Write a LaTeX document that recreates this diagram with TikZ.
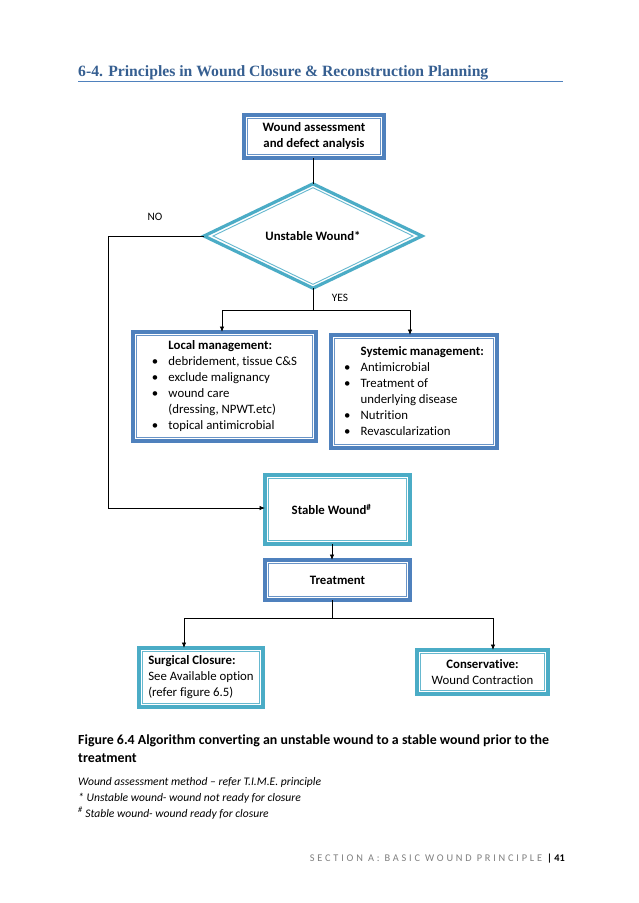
\documentclass[tikz,border=0pt]{standalone}
\usepackage{fontspec}
\setmainfont[Ligatures={NoCommon}]{Carlito}
\newfontfamily\titlefont{Liberation Serif}
\newfontfamily\spacedfont[LetterSpace=27,Ligatures={NoCommon}]{Carlito}
\usetikzlibrary{shapes.geometric,arrows.meta,calc}
\definecolor{bluec}{HTML}{4F81BD}
\definecolor{tealc}{HTML}{4BACC6}
\definecolor{titlec}{HTML}{365F91}
\definecolor{footc}{HTML}{7F7F7F}
\newcommand{\bul}{\makebox[16.5pt][l]{\textbullet}}
\newcommand{\ind}{\hspace*{16.5pt}}
\begin{document}
\begin{tikzpicture}[x=1pt,y=-1pt,
  boxfont/.style={font=\fontsize{12.8}{16}\selectfont},
  bbox/.style={draw=bluec, line width=3.2pt, fill=white, inner sep=0pt, outer sep=0pt, align=center, boxfont},
  tbox/.style={bbox, draw=tealc},
  conn/.style={line width=0.8pt, black},
  arr/.style={conn, -{Latex[length=5.5pt,width=4.5pt]}},
  lbl/.style={font=\fontsize{11.3}{13}\selectfont, inner sep=0pt}]
\fill[white] (0,0) rectangle (638,903);
\useasboundingbox (0,0) rectangle (638,903);

% title
\node[anchor=base west, inner sep=0pt, text=titlec, font=\titlefont\bfseries\fontsize{15.7}{18}\selectfont] (title) at (78,76) {6-4. Principles in Wound Closure \& Reconstruction Planning};
\draw[bluec, line width=1.8pt] (78,81.5) -- (563,81.5);

% nodes
\node[bbox, minimum width=140pt, minimum height=43pt] (assess) at (314,136.5) {\textbf{Wound assessment}\\\textbf{and defect analysis}};
\node[draw=tealc, line width=3.2pt, fill=white, shape=diamond, inner sep=0pt, outer sep=0pt, minimum width=218pt, minimum height=90pt, boxfont] (dia) at (313,236) {\textbf{Unstable Wound*}};
\node[bbox, minimum width=183pt, minimum height=109pt, align=left] (local) at (224.5,386.5)
  {\ind\textbf{Local management:}\\\bul debridement, tissue C\&S\hspace*{12pt}\\\bul exclude malignancy\\\bul wound care\\\ind(dressing, NPWT.etc)\\\bul topical antimicrobial};
\node[bbox, minimum width=166pt, minimum height=113pt, align=left] (sys) at (414,391.5)
  {\ind\textbf{Systemic management:}\\\bul Antimicrobial\\\bul Treatment of\\\ind underlying disease\\\bul Nutrition\\\bul Revascularization};
\node[tbox, minimum width=145pt, minimum height=69pt] (stable) at (337.5,509.5) {\textbf{Stable Wound\textsuperscript{\#}}\hspace*{12pt}};
\node[bbox, minimum width=145pt, minimum height=40pt] (treat) at (337.5,580) {\textbf{Treatment}};
\node[tbox, minimum width=124pt, minimum height=59pt, align=left] (surg) at (201,677.5) {\textbf{Surgical Closure:}\\See Available option\\(refer figure 6.5)\hspace*{6pt}};
\node[tbox, minimum width=131pt, minimum height=44pt] (cons) at (482.5,672) {\textbf{Conservative:}\\Wound Contraction};

% inner frames
\foreach \n/\c in {assess/bluec,local/bluec,sys/bluec,treat/bluec,stable/tealc,surg/tealc,cons/tealc}
  \draw[\c!85, line width=0.9pt] ([xshift=3.6pt,yshift=-3.6pt]\n.north west) rectangle ([xshift=-3.6pt,yshift=3.6pt]\n.south east);
\draw[tealc!85, line width=0.9pt] ([xshift=9pt]dia.west) -- ([yshift=-3.9pt]dia.north) -- ([xshift=-9pt]dia.east) -- ([yshift=3.9pt]dia.south) -- cycle;

% labels
\node[lbl] (no) at (155,217) {NO};
\node[lbl] (yes) at (340,298) {YES};

% connectors
\coordinate (nl) at (108,0);
\coordinate (ys) at (313,310);
\coordinate (yl) at (222,310);
\coordinate (yr) at (410,310);
\coordinate (sx) at (332,0);
\coordinate (tj) at (332,618);
\coordinate (tl) at (184,618);
\coordinate (tr) at (493,618);
\draw[conn] (assess.south -| dia.north) -- (dia.north);
\draw[arr] (dia.west) -- (dia.west -| nl) -- ($(stable.west -| nl)+(0,-1.5)$) -- ($(stable.west)+(0,-1.5)$);
\draw[conn] (dia.south) -- (ys);
\draw[conn] (yl) -- (yr);
\draw[arr] (yl) -- (yl |- local.north);
\draw[arr] (yr) -- (yr |- sys.north);
\draw[arr] (stable.south -| sx) -- (treat.north -| sx);
\draw[conn] (treat.south -| sx) -- (tj);
\draw[conn] (tl) -- (tr);
\draw[arr] (tl) -- (tl |- surg.north);
\draw[arr] (tr) -- (tr |- cons.north);

% caption and notes
\node[anchor=base west, inner sep=0pt, font=\bfseries\fontsize{13.9}{18}\selectfont] (cap1) at (78,744) {Figure 6.4 Algorithm converting an unstable wound to a stable wound prior to the};
\node[anchor=base west, inner sep=0pt, font=\bfseries\fontsize{13.9}{18}\selectfont] (cap2) at (78,762) {treatment};
\node[anchor=base west, inner sep=0pt, font=\itshape\fontsize{11.6}{16}\selectfont] (n1) at (78,785) {Wound assessment method -- refer T.I.M.E. principle};
\node[anchor=base west, inner sep=0pt, font=\itshape\fontsize{11.6}{16}\selectfont] (n2) at (78,801) {* Unstable wound- wound not ready for closure};
\node[anchor=base west, inner sep=0pt, font=\itshape\fontsize{11.6}{16}\selectfont] (n3) at (78,817) {\textsuperscript{\#} Stable wound- wound ready for closure};

% footer
\node[anchor=base east, inner sep=0pt, font=\fontsize{10.3}{14}\selectfont] (foot) at (565,861) {{\spacedfont\color{footc}SECTION A: BASIC WOUND PRINCIPLE }\textbf{| 41}};
\end{tikzpicture}
\end{document}
